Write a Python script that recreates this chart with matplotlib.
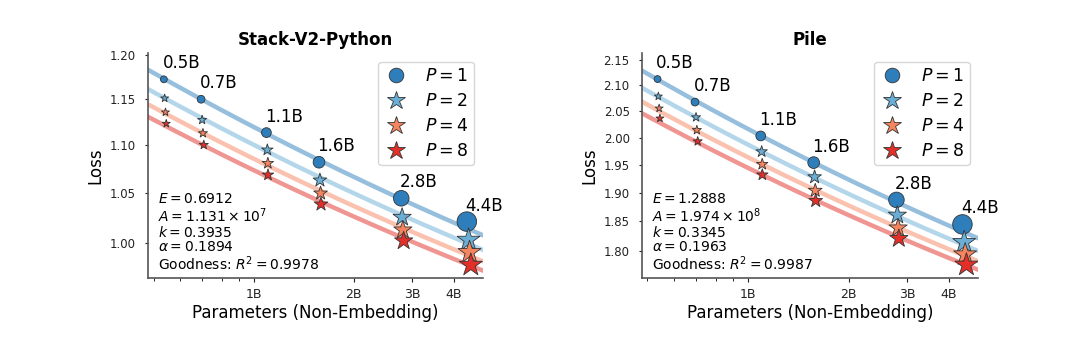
import numpy as np
import matplotlib.pyplot as plt
from matplotlib.lines import Line2D
from matplotlib.ticker import FixedLocator, FixedFormatter, NullFormatter, LogLocator

# model sizes (non-embedding params, billions) per P
sizes = ['0.5B', '0.7B', '1.1B', '1.6B', '2.8B', '4.4B']
p_values = [1, 2, 4, 8]
params = {
    1: [0.536, 0.694, 1.092, 1.573, 2.783, 4.387],
    2: [0.539, 0.699, 1.099, 1.583, 2.800, 4.44],
    4: [0.542, 0.703, 1.103, 1.590, 2.815, 4.47],
    8: [0.545, 0.707, 1.104, 1.595, 2.830, 4.51],
}

# Stack-V2-Python loss
stack_loss = {
    1: [1.172, 1.1496, 1.1131, 1.0816, 1.0445, 1.0212],
    2: [1.1507, 1.1268, 1.0946, 1.0629, 1.0255, 1.0032],
    4: [1.1352, 1.1124, 1.0805, 1.0496, 1.0130, 0.9913],
    8: [1.1228, 1.0999, 1.0684, 1.0385, 1.0023, 0.9792],
}
stack_fit = dict(E=0.6912, A=1.131e7, k=0.3935, alpha=0.1894, r2=0.9978)

# Pile loss
pile_loss = {
    1: [2.1117, 2.067, 2.003, 1.954, 1.8875, 1.845],
    2: [2.078, 2.038, 1.974, 1.928, 1.861, 1.8146],
    4: [2.055, 2.014, 1.951, 1.904, 1.839, 1.794],
    8: [2.036, 1.993, 1.932, 1.886, 1.821, 1.777],
}
pile_fit = dict(E=1.2888, A=1.974e8, k=0.3345, alpha=0.1963, r2=0.9987)

colors = {1: '#2e7ebc', 2: '#6aaed6', 4: '#f6845f', 8: '#e32f27'}
markers = {1: 'o', 2: '*', 4: '*', 8: '*'}

fig = plt.figure(figsize=(10.8, 3.41), dpi=100)
ax1 = fig.add_axes([0.137, 0.184, 0.310, 0.660])
ax2 = fig.add_axes([0.594, 0.184, 0.312, 0.660])


def draw(ax, title, loss, fit, yticks, ylim, exp_str):
    xlim = (0.48e9, 4.9e9)
    xs = np.geomspace(xlim[0], xlim[1], 200)
    for p in p_values:
        # fitted scaling curve L = (A / (N (k ln P + 1)))^alpha + E
        fy = (fit['A'] / (xs * (fit['k'] * np.log(p) + 1))) ** fit['alpha'] + fit['E']
        ax.plot(xs, fy, color=colors[p], alpha=0.5, lw=3.2, zorder=1)
    for p in p_values:
        n = np.array(params[p]) * 1e9
        s = np.array(params[p]) * 45
        if p > 1:
            s = s * 1.5
        ax.scatter(n, loss[p], s=s, marker=markers[p], color=colors[p],
                   edgecolor='#333333', linewidth=0.6, zorder=3)
    for i, lab in enumerate(sizes):
        ax.annotate(lab, (params[1][i] * 1e9, loss[1][i]), xytext=(-1, 5),
                    textcoords='offset points', fontsize=12, ha='left', va='bottom')
    ax.set_xscale('log')
    ax.set_yscale('log')
    ax.set_xlim(*xlim)
    ax.set_ylim(*ylim)
    ax.xaxis.set_major_locator(FixedLocator([1e9, 2e9, 3e9, 4e9]))
    ax.xaxis.set_major_formatter(FixedFormatter(['1B', '2B', '3B', '4B']))
    ax.xaxis.set_minor_locator(LogLocator(base=10, subs=np.arange(2, 10) * 0.1, numticks=20))
    ax.xaxis.set_minor_formatter(NullFormatter())
    ax.yaxis.set_major_locator(FixedLocator(yticks))
    ax.yaxis.set_major_formatter(FixedFormatter(['%.2f' % v for v in yticks]))
    ax.yaxis.set_minor_formatter(NullFormatter())
    ax.yaxis.set_minor_locator(FixedLocator([]))
    ax.tick_params(axis='y', labelsize=8.5, colors='#222222', length=2.5, pad=6)
    ax.tick_params(axis='x', labelsize=9, colors='#222222', length=3, pad=4)
    ax.tick_params(axis='x', which='minor', length=2)
    ax.spines['top'].set_visible(False)
    ax.spines['right'].set_visible(False)
    for sp in ['left', 'bottom']:
        ax.spines[sp].set_color('#555555')
        ax.spines[sp].set_linewidth(1.2)
    ax.set_title(title, fontsize=12, fontweight='bold')
    ax.set_xlabel('Parameters (Non-Embedding)', fontsize=12, labelpad=2)
    ax.set_ylabel('Loss', fontsize=12)
    txt = ('$E = %.4f$\n$A = %s$\n$k = %.4f$\n$\\alpha = %.4f$\nGoodness: $R^2 = %.4f$'
           % (fit['E'], exp_str, fit['k'], fit['alpha'], fit['r2']))
    ax.text(0.03, 0.025, txt, transform=ax.transAxes, fontsize=10, ha='left', va='bottom',
            linespacing=1.0)
    handles = [Line2D([], [], marker=markers[p], ls='none', color=colors[p],
                      markeredgecolor='#333333', markeredgewidth=0.6,
                      markersize=10.5 if p == 1 else 13.5, label='$P = %d$' % p)
               for p in p_values]
    ax.legend(handles=handles, loc='upper right', fontsize=12.5, handletextpad=0.9,
              labelspacing=0.4, borderpad=0.3, handlelength=1.5)


draw(ax1, 'Stack-V2-Python', stack_loss, stack_fit,
     [1.00, 1.05, 1.10, 1.15, 1.20], (0.9667, 1.202), '1.131 \\times 10^{7}')
draw(ax2, 'Pile', pile_loss, pile_fit,
     [1.80, 1.85, 1.90, 1.95, 2.00, 2.05, 2.10, 2.15], (1.755, 2.163), '1.974 \\times 10^{8}')

fig.savefig('out.png', dpi=100)
